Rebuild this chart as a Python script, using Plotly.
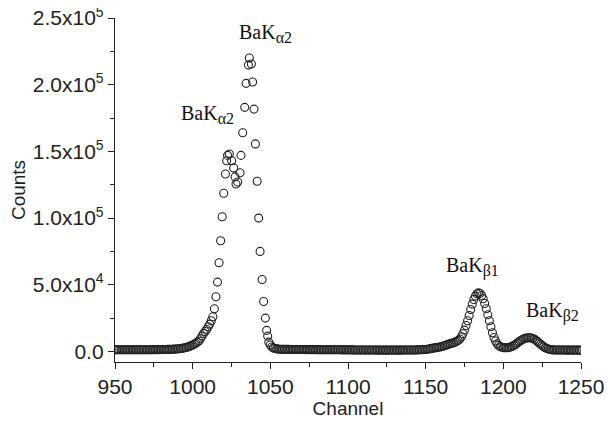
import plotly.graph_objects as go

# ---- data ----
ch_left = list(range(950, 1020))
counts_left = [1350, 1320, 1340, 1300, 1310, 1330, 1290, 1300, 1320, 1310,
               1280, 1300, 1310, 1290, 1300, 1320, 1300, 1310, 1290, 1300,
               1320, 1330, 1310, 1340, 1350, 1360, 1350, 1380, 1400, 1410,
               1420, 1450, 1470, 1500, 1530, 1560,
               1600, 1650, 1720, 1800, 1900, 2000, 2150, 2300, 2500, 2750,
               3050, 3400, 3850, 4350, 4900, 5500, 6200, 7000, 7900, 9500,
               11500, 13500, 15000, 16500, 18500, 20500, 23000,
               26000, 32000, 41000, 52000, 66500, 83000, 101000]

ch_peak = [1020.0, 1021.1, 1021.9, 1022.5, 1023.6, 1025.1, 1026.4, 1027.3,
           1027.9, 1029.0, 1030.5, 1031.1, 1032.2, 1033.5, 1034.4, 1035.9,
           1036.5, 1037.8, 1038.6, 1039.5, 1040.4, 1041.5, 1042.5, 1043.4,
           1044.7, 1045.7, 1046.8, 1047.6, 1048.3]
counts_peak = [118600, 133000, 143000, 147000, 148000, 143000, 137600, 130900,
               125600, 127000, 134000, 147000, 164000, 183000, 201000, 214700,
               220000, 215500, 202000, 181700, 155600, 127600, 100000, 75000,
               54000, 37500, 25000, 15800, 11500]

ch_mid = list(range(1049, 1146))
counts_mid = [7000, 4800, 3300, 2600, 2200, 1950, 1800, 1700, 1650, 1600,
              1580, 1560, 1540, 1530, 1520, 1500, 1490, 1480, 1470, 1460,
              1450, 1440, 1430, 1420, 1410, 1400, 1400, 1390, 1380, 1370,
              1360, 1350, 1350, 1340, 1330, 1320, 1310, 1300, 1300, 1290,
              1280, 1270, 1260, 1250, 1250, 1240, 1230, 1220, 1210, 1200,
              1200, 1190, 1180, 1170, 1160, 1150, 1150, 1140, 1130, 1120,
              1110, 1100, 1100, 1090, 1080, 1070, 1060, 1050, 1050, 1040,
              1030, 1020, 1010, 1000, 1000, 1000, 1000, 1000, 1000, 1000,
              1000, 1000, 1000, 1010, 1020, 1030, 1040, 1050, 1060, 1070,
              1080, 1090, 1100, 1120, 1140, 1170, 1200]

ch_right = list(range(1146, 1251))
counts_right = [1250, 1300, 1350, 1420, 1500, 1700, 1900, 2100, 2300, 2500,
                2700, 2900, 3100, 3300, 3600, 3900, 4300, 4700, 5100, 5500,
                5900, 6200, 6600, 7000, 7600, 8300, 9300, 11000, 13300, 16000,
                19500, 23000, 27000, 31500, 35500, 39000, 41500, 43300, 44000,
                43500, 42000, 39500, 36000, 32000, 27500, 23000, 18500, 14000,
                10500, 7800, 5800, 4500, 3700, 3200, 2900, 2800, 2800, 2900,
                3100, 3500, 4000, 4600, 5400, 6300, 7200, 8000, 8700, 9300,
                9800, 10100, 10300, 10300, 10100, 9700, 9100, 8300, 7400, 6400,
                5400, 4400, 3500, 2800, 2200, 1800, 1500, 1300, 1200, 1150,
                1100, 1100, 1080, 1060, 1050, 1050, 1040, 1030, 1020, 1010,
                1000, 1000, 1000, 1000, 1000, 1000, 1000]

channels = ch_left + ch_peak + ch_mid + ch_right
counts = counts_left + counts_peak + counts_mid + counts_right

y_tickvals = [0, 50000, 100000, 150000, 200000, 250000]
SUP = "<sup><span style='font-size:14px'>{}</span></sup>"
y_ticktext = ["0.0", "5.0x10" + SUP.format(4), "1.0x10" + SUP.format(5),
              "1.5x10" + SUP.format(5), "2.0x10" + SUP.format(5),
              "2.5x10" + SUP.format(5)]
x_tickvals = [950, 1000, 1050, 1100, 1150, 1200, 1250]

label_main = ["BaK", "BaK", "BaK", "BaK"]
label_sub = ["α2", "α2", "β1", "β2"]
label_x = [1028.5, 991.2, 1161.8, 1213.3]
label_y = [249000, 188500, 74600, 40900]

AX = "#222222"

fig = go.Figure()
fig.add_trace(go.Scatter(
    x=channels, y=counts, mode="markers",
    marker=dict(symbol="circle-open", size=8, color="#222222",
                line=dict(width=1.1, color="#222222")),
    showlegend=False,
))

SERIF = "Liberation Serif"
for m, s, lx, ly in zip(label_main, label_sub, label_x, label_y):
    fig.add_annotation(
        x=lx, y=ly, showarrow=False, xanchor="left", yanchor="top",
        text=m + "<sub><span style='font-size:16px'>" + s + "</span></sub>",
        font=dict(family=SERIF, size=20, color="#111111"))

# page body adds an 8px offset; figure size/margins compensate for it
fig.update_layout(
    width=604, height=417,
    margin=dict(l=107, r=31, t=10, b=63, autoexpand=False),
    paper_bgcolor="white", plot_bgcolor="white",
    font=dict(family="Liberation Sans", size=21, color=AX),
)
fig.update_xaxes(
    range=[950, 1250], tickvals=x_tickvals, automargin=False,
    showline=True, linecolor=AX, linewidth=1.3, mirror=False,
    ticks="outside", ticklen=6, tickwidth=1.3, tickcolor=AX,
    minor=dict(dtick=25, tick0=950, ticks="outside", ticklen=4, tickwidth=1.1, tickcolor=AX),
    showgrid=False, zeroline=False, ticklabeloverflow="allow",
    title=dict(text="Channel", font=dict(size=19), standoff=4),
    tickfont=dict(size=21),
)
fig.update_yaxes(
    range=[-7900, 250000], tickvals=y_tickvals, ticktext=y_ticktext, automargin=False,
    showline=True, linecolor=AX, linewidth=1.3, mirror=False,
    ticks="outside", ticklen=6, tickwidth=1.3, tickcolor=AX,
    minor=dict(dtick=25000, tick0=0, ticks="outside", ticklen=4, tickwidth=1.1, tickcolor=AX),
    showgrid=False, zeroline=False, ticklabeloverflow="allow",
    title=dict(text="Counts", font=dict(size=19), standoff=10),
    tickfont=dict(size=21),
)

fig.write_html("out.html")
